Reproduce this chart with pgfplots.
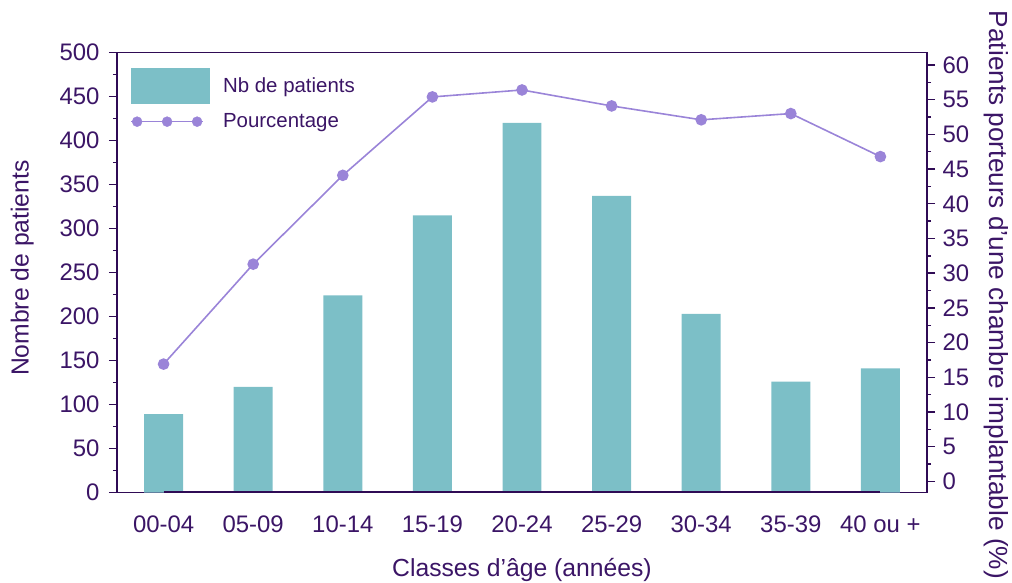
\documentclass[border=0pt]{standalone}
\usepackage{pgfplots}
\pgfplotsset{compat=1.18}
\usepackage{fontspec}
\setmainfont{Liberation Sans}
\definecolor{textc}{HTML}{3B1566}
\definecolor{axisc}{HTML}{2F0B55}
\definecolor{barc}{HTML}{7CBFC7}
\definecolor{linec}{HTML}{9A84D8}
\begin{document}
\begin{tikzpicture}
\pgfplotsset{
  common/.style={
    scale only axis, width=810bp, height=440bp,
    xmin=-0.52, xmax=8.52,
    axis line style={axisc, line width=1.4bp},
    every tick/.style={axisc, line width=1.4bp},
    tick align=outside,
    major tick length=8bp, minor tick length=4bp,
    /pgf/number format/assume math mode=true,
    ticklabel style={font=\fontsize{24}{24}\selectfont, text=textc},
    label style={font=\fontsize{24.8}{24.8}\selectfont, text=textc},
  }
}
\begin{axis}[common,
  ymin=0, ymax=500,
  ytick={0,50,...,500}, minor y tick num=1,
  ytick pos=left,
  xtick={0,...,8},
  xticklabels={00-04,05-09,10-14,15-19,20-24,25-29,30-34,35-39,40 ou +},
  x tick style={draw=none},
  xticklabel style={yshift=-12bp},
  yticklabel style={xshift=-6bp},
  xlabel={Classes d'âge (années)},
  xlabel style={at={(axis description cs:0.5,-0.176)}, anchor=center},
  ylabel={Nombre de patients},
  ylabel style={at={(axis description cs:-0.117,0.51)}, anchor=center},
  legend style={draw=none, fill=none, at={(axis description cs:0.0125,0.97)}, anchor=north west,
    font=\fontsize{20.5}{20.5}\selectfont, text=textc, row sep=9bp, column sep=12bp,
    nodes={inner sep=1bp}},
  legend cell align=left,
]
\addplot[ybar, bar width=0.435, fill=barc, draw=none,
  legend image code/.code={\fill[barc] (0bp,-18bp) rectangle (79bp,18bp);}]
  coordinates {(0,89) (1,120) (2,224) (3,315) (4,420) (5,337) (6,203) (7,126) (8,141)};
\addlegendentry{Nb de patients}
\addlegendimage{linec,
  legend image code/.code={%
    \draw[linec, line width=1.6bp] (0bp,0bp) -- (72bp,0bp);
    \draw[linec, only marks, mark=*, mark size=5bp, mark options={fill=linec, draw=linec}] plot coordinates {(6bp,0bp) (36bp,0bp) (66bp,0bp)};}}
\addlegendentry{Pourcentage}
\addplot[axisc, line width=2.4bp, forget plot] coordinates {(0,0) (8,0)};
\end{axis}
\begin{axis}[common,
  ymin=-1.6, ymax=61.8,
  axis x line=none, axis y line*=right,
  ytick={0,5,...,60}, minor y tick num=1,
  yticklabel style={xshift=4bp},
  ylabel={Patients porteurs d'une chambre implantable (\%)},
  ylabel style={at={(axis description cs:1.085,0.449)}, anchor=center, rotate=180, font=\fontsize{26.3}{26.3}\selectfont},
]
\addplot[linec, line width=1.6bp, mark=*, mark size=5bp, mark options={fill=linec, draw=linec}]
  coordinates {(0,16.9) (1,31.3) (2,44.1) (3,55.4) (4,56.4) (5,54.1) (6,52.1) (7,53.0) (8,46.8)};
\end{axis}
\pgfresetboundingbox
\path[use as bounding box] (-117bp,-90.5bp) rectangle (895bp,492.5bp);
\end{tikzpicture}
\end{document}
